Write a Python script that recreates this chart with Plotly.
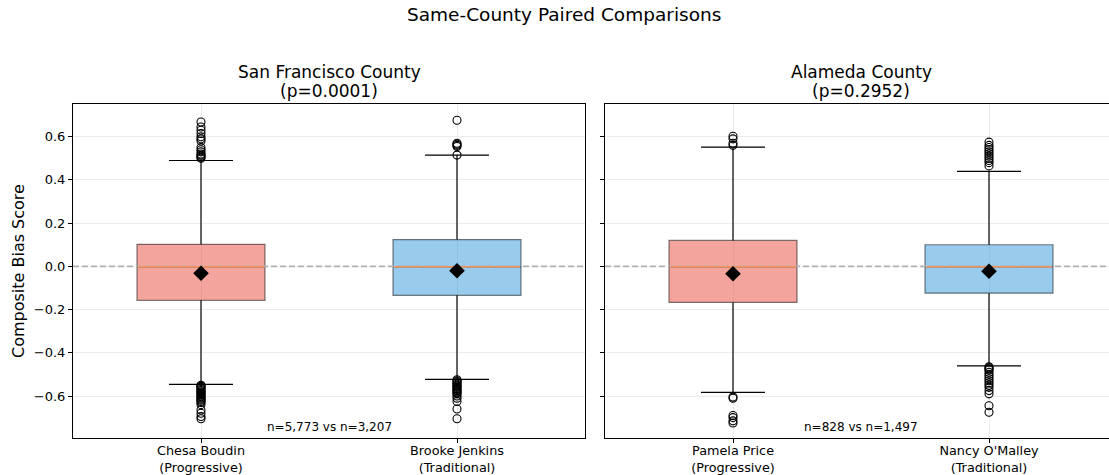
import plotly.graph_objects as go

# ---- data -------------------------------------------------------------
counties = ["San Francisco County", "Alameda County"]
p_values = ["0.0001", "0.2952"]
count_labels = ["n=5,773 vs n=3,207", "n=828 vs n=1,497"]

names = ["Chesa Boudin<br>(Progressive)", "Brooke Jenkins<br>(Traditional)",
         "Pamela Price<br>(Progressive)", "Nancy O'Malley<br>(Traditional)"]
q1 = [-0.157, -0.134, -0.167, -0.124]
median = [-0.002, -0.002, -0.002, -0.002]
q3 = [0.102, 0.124, 0.120, 0.100]
lower_whisker = [-0.546, -0.523, -0.583, -0.461]
upper_whisker = [0.490, 0.515, 0.552, 0.440]
means = [-0.032, -0.020, -0.034, -0.023]

outliers = [
    # Chesa Boudin
    [0.500, 0.505, 0.510, 0.515, 0.520, 0.530, 0.540, 0.550, 0.580, 0.590,
     0.600, 0.615, 0.630, 0.645, 0.668,
     -0.550, -0.553, -0.556, -0.560, -0.565, -0.570, -0.575, -0.580, -0.585,
     -0.590, -0.595, -0.600, -0.605, -0.610, -0.615, -0.620, -0.625, -0.630,
     -0.640, -0.665, -0.680, -0.695, -0.705],
    # Brooke Jenkins
    [0.515, 0.555, 0.560, 0.565, 0.570, 0.676,
     -0.525, -0.530, -0.535, -0.540, -0.545, -0.550, -0.555, -0.560, -0.565,
     -0.570, -0.575, -0.580, -0.585, -0.590, -0.600, -0.610, -0.625, -0.660,
     -0.705],
    # Pamela Price
    [0.560, 0.570, 0.590, 0.602,
     -0.605, -0.610, -0.690, -0.700, -0.715, -0.725],
    # Nancy O'Malley
    [0.465, 0.480, 0.490, 0.500, 0.510, 0.520, 0.530, 0.540, 0.550, 0.560,
     0.575,
     -0.465, -0.470, -0.475, -0.480, -0.490, -0.500, -0.510, -0.520, -0.530,
     -0.540, -0.550, -0.560, -0.575, -0.590, -0.645, -0.675],
]

positions = [1, 2, 1, 2]
panel = [0, 0, 1, 1]
fills = ["rgba(231,76,60,0.5)", "rgba(52,152,219,0.5)",
         "rgba(231,76,60,0.5)", "rgba(52,152,219,0.5)"]

y_ticks = [-0.6, -0.4, -0.2, 0.0, 0.2, 0.4, 0.6]
y_ticktext = [f"{v:.1f}".replace("-", "\u2212") for v in y_ticks]

# ---- figure -----------------------------------------------------------
W, H = 1109, 475
BOX_W = 0.5
CAP_W = 0.25
FONT = "DejaVu Sans"

# panel geometry
x1_dom = [73 / W, 585 / W]
x2_dom = [605 / W, 1.0]
y_dom = [1 - 437.7 / H, 1 - 104.3 / H]
y_range = [-0.793, 0.750]
x1_range = [0.5, 2.5]
x2_range = [0.5, 0.5 + (x2_dom[1] - x2_dom[0]) * W / 256.0]

fig = go.Figure()

# dashed zero reference line, drawn first so boxes sit on top of it
for xa, ya, xr in [("x", "y", x1_range), ("x2", "y2", x2_range)]:
    fig.add_trace(go.Scatter(
        x=xr, y=[0, 0], mode="lines",
        line=dict(color="#b0b0b0", width=1.6, dash="6px,3px"),
        hoverinfo="skip", xaxis=xa, yaxis=ya, showlegend=False))

for i in range(4):
    xa = "x" if panel[i] == 0 else "x2"
    ya = "y" if panel[i] == 0 else "y2"
    xp = positions[i]

    fig.add_trace(go.Box(
        x=[xp], q1=[q1[i]], median=[median[i]], q3=[q3[i]],
        lowerfence=[q1[i]], upperfence=[q3[i]],
        width=BOX_W, fillcolor=fills[i],
        line=dict(color="rgba(0,0,0,0.5)", width=1.2),
        whiskerwidth=0, boxpoints=False, hoverinfo="skip",
        xaxis=xa, yaxis=ya, showlegend=False))

    # whiskers and caps
    fig.add_trace(go.Scatter(
        x=[xp, xp, None, xp, xp, None,
           xp - CAP_W / 2, xp + CAP_W / 2, None,
           xp - CAP_W / 2, xp + CAP_W / 2],
        y=[q3[i], upper_whisker[i], None, q1[i], lower_whisker[i], None,
           upper_whisker[i], upper_whisker[i], None,
           lower_whisker[i], lower_whisker[i]],
        mode="lines", line=dict(color="black", width=1.2),
        hoverinfo="skip", xaxis=xa, yaxis=ya, showlegend=False))

    # median
    fig.add_trace(go.Scatter(
        x=[xp - BOX_W / 2 + 0.004, xp + BOX_W / 2 - 0.004],
        y=[median[i], median[i]],
        mode="lines", line=dict(color="#f7925c", width=1.6),
        hoverinfo="skip", xaxis=xa, yaxis=ya, showlegend=False))

    # outliers
    fig.add_trace(go.Scatter(
        x=[xp] * len(outliers[i]), y=outliers[i], mode="markers",
        marker=dict(symbol="circle-open", size=8, color="black",
                    line=dict(width=1.1, color="black")),
        hoverinfo="skip", xaxis=xa, yaxis=ya, showlegend=False))

    # mean
    fig.add_trace(go.Scatter(
        x=[xp], y=[means[i]], mode="markers",
        marker=dict(symbol="diamond", size=12, color="black"),
        hoverinfo="skip", xaxis=xa, yaxis=ya, showlegend=False))

axis_common = dict(showgrid=True, gridcolor="#ebebeb", gridwidth=1,
                   zeroline=False, ticks="outside", ticklen=4,
                   tickcolor="black", linecolor="black", linewidth=1,
                   showline=True, automargin=False)
y_font = dict(family=FONT, size=13, color="black")
x_font = dict(family=FONT, size=12.8, color="black")

fig.update_layout(
    width=W, height=H, autosize=False,
    margin=dict(l=0, r=0, t=0, b=0, pad=0),
    paper_bgcolor="white", plot_bgcolor="white",
    font=dict(family=FONT, color="black"),
    xaxis=dict(domain=x1_dom, range=x1_range, tickvals=[1, 2],
               ticktext=names[:2], mirror=True, anchor="y",
               tickfont=x_font, ticklabelstandoff=-3, **axis_common),
    yaxis=dict(domain=y_dom, range=y_range, tickvals=y_ticks,
               ticktext=y_ticktext, mirror=True, anchor="x",
               tickfont=y_font, **axis_common),
    xaxis2=dict(domain=x2_dom, range=x2_range, tickvals=[1, 2],
                ticktext=names[2:], mirror=True, anchor="y2",
                tickfont=x_font, ticklabelstandoff=-3, **axis_common),
    yaxis2=dict(domain=y_dom, range=y_range, tickvals=y_ticks,
                showticklabels=False, mirror=False, anchor="x2",
                tickfont=y_font, **axis_common),
)

# titles
fig.add_annotation(text="Same-County Paired Comparisons", xref="paper",
                   yref="paper", x=563.5 / W, y=1 - 15 / H, xanchor="center",
                   yanchor="middle", showarrow=False,
                   font=dict(family=FONT, size=18.5, color="black"))

centers = [(x1_dom[0] + x1_dom[1]) / 2, (x2_dom[0] + 512 / W / 2)]
for k in range(2):
    for text, ypx in [(counties[k], 72), (f"(p={p_values[k]})", 91)]:
        fig.add_annotation(text=text, xref="paper", yref="paper",
                           x=centers[k], y=1 - ypx / H, xanchor="center",
                           yanchor="middle", showarrow=False,
                           font=dict(family=FONT, size=17, color="black"))
    fig.add_annotation(text=count_labels[k], xref="x" if k == 0 else "x2",
                       yref="paper", x=1.5, y=1 - 427 / H,
                       xanchor="center", yanchor="middle", showarrow=False,
                       font=dict(family=FONT, size=12, color="black"))

fig.add_annotation(text="Composite Bias Score", xref="paper", yref="paper",
                   x=18 / W, y=(y_dom[0] + y_dom[1]) / 2, textangle=-90,
                   xanchor="center", yanchor="middle", showarrow=False,
                   font=dict(family=FONT, size=16, color="black"))

fig.write_html("out.html")
